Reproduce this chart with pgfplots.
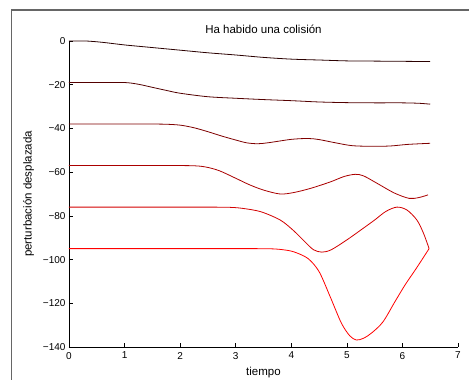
\documentclass[border=0pt]{standalone}
\usepackage{pgfplots}
\pgfplotsset{compat=1.18}
\usepackage{fontspec}
\setmainfont{Liberation Sans}
\definecolor{c1}{rgb}{0.17,0,0}
\definecolor{c2}{rgb}{0.33,0,0}
\definecolor{c3}{rgb}{0.5,0,0}
\definecolor{c4}{rgb}{0.67,0,0}
\definecolor{c5}{rgb}{0.83,0,0}
\definecolor{c6}{rgb}{1,0,0}
\begin{document}
\begin{tikzpicture}[x=1pt,y=1pt]
\useasboundingbox (0,0) rectangle (469,380);
\fill[white] (0,0) rectangle (469,380);
\draw[gray!80!black, line width=1.3pt] (11.5,0) -- (11.5,370) -- (469,370);
\begin{axis}[
  at={(69pt,33pt)}, anchor=south west,
  scale only axis, width=389pt, height=306pt,
  xmin=0, xmax=7, ymin=-140, ymax=0,
  axis lines=left, axis line style={-, black, line width=0.6pt},
  xtick={0,1,...,7}, ytick={-140,-120,...,0},
  yticklabels={−140,−120,−100,−80,−60,−40,−20,0},
  tick align=inside, major tick length=4pt,
  tick style={black, line width=0.6pt},
  tick label style={font=\fontsize{10}{12}\selectfont},
  /pgf/number format/assume math mode=true,
  xticklabel style={yshift=-1.5pt},
  title={Ha habido una colisión},
  title style={font=\fontsize{11.5}{13}\selectfont, at={(0.5,1)}, anchor=south, yshift=-2pt},
  xlabel={tiempo},
  ylabel={perturbación desplazada},
  label style={font=\fontsize{11.5}{13}\selectfont},
  xlabel style={yshift=-1.5pt},
  ylabel style={yshift=2pt},
  clip=false,
]
\addplot[c1, line width=0.8pt, smooth] coordinates {(0,0)(0.3,0)(0.6,-0.6)(1,-1.8)(1.5,-3)(2,-4.2)(2.5,-5.4)(3,-6.4)(3.5,-7.5)(4,-8.3)(4.5,-8.7)(5,-9.1)(5.5,-9.2)(6,-9.3)(6.5,-9.4)};
\addplot[c2, line width=0.8pt, smooth] coordinates {(0,-19)(0.5,-19)(1,-19)(1.25,-19.8)(1.5,-21.2)(1.75,-22.6)(2,-23.9)(2.5,-25.5)(3,-26.2)(3.5,-26.8)(4,-27.3)(4.5,-27.9)(5,-28.2)(5.5,-28.3)(6,-28.3)(6.3,-28.5)(6.5,-28.9)};
\addplot[c3, line width=0.8pt, smooth] coordinates {(0,-38)(0.6,-38)(1.2,-38)(1.7,-38.05)(2,-38.5)(2.25,-39.7)(2.5,-41.5)(2.75,-43.5)(3,-45.3)(3.2,-46.6)(3.4,-47.0)(3.6,-46.5)(4,-45)(4.3,-44.6)(4.5,-45.1)(4.8,-46.6)(5.1,-47.9)(5.5,-48.2)(5.8,-48)(6.1,-47.3)(6.5,-46.8)};
\addplot[c4, line width=0.8pt, smooth] coordinates {(0,-57)(0.8,-57)(1.6,-57)(2.2,-57.05)(2.45,-57.6)(2.7,-59.3)(3,-62.8)(3.25,-65.8)(3.5,-68.2)(3.8,-70)(4.05,-69.3)(4.35,-67.4)(4.7,-64.5)(4.95,-62)(5.15,-61)(5.3,-61.7)(5.55,-65.2)(5.85,-69.5)(6.12,-72)(6.3,-71.6)(6.46,-70.4)};
\addplot[c5, line width=0.8pt, smooth] coordinates {(0,-76)(1,-76)(2,-76)(2.8,-76.05)(3.1,-76.5)(3.45,-78.1)(3.8,-81.9)(4.03,-86.5)(4.25,-92)(4.4,-95.5)(4.55,-96.6)(4.72,-95.5)(5,-91)(5.25,-86.5)(5.5,-81.9)(5.7,-78)(5.9,-76)(6.08,-77.3)(6.26,-81.9)(6.38,-88)(6.48,-95)};
\addplot[c6, line width=0.8pt, smooth] coordinates {(0,-95)(1,-95)(2,-95)(3,-95)(3.6,-95.05)(3.85,-95.5)(4.05,-96.5)(4.3,-99.5)(4.5,-105.5)(4.7,-117)(4.9,-129)(5.05,-134.8)(5.17,-136.8)(5.3,-136)(5.45,-133.5)(5.65,-128.5)(5.86,-119.5)(6.05,-111.5)(6.25,-104)(6.48,-95)};
\end{axis}
\end{tikzpicture}
\end{document}
